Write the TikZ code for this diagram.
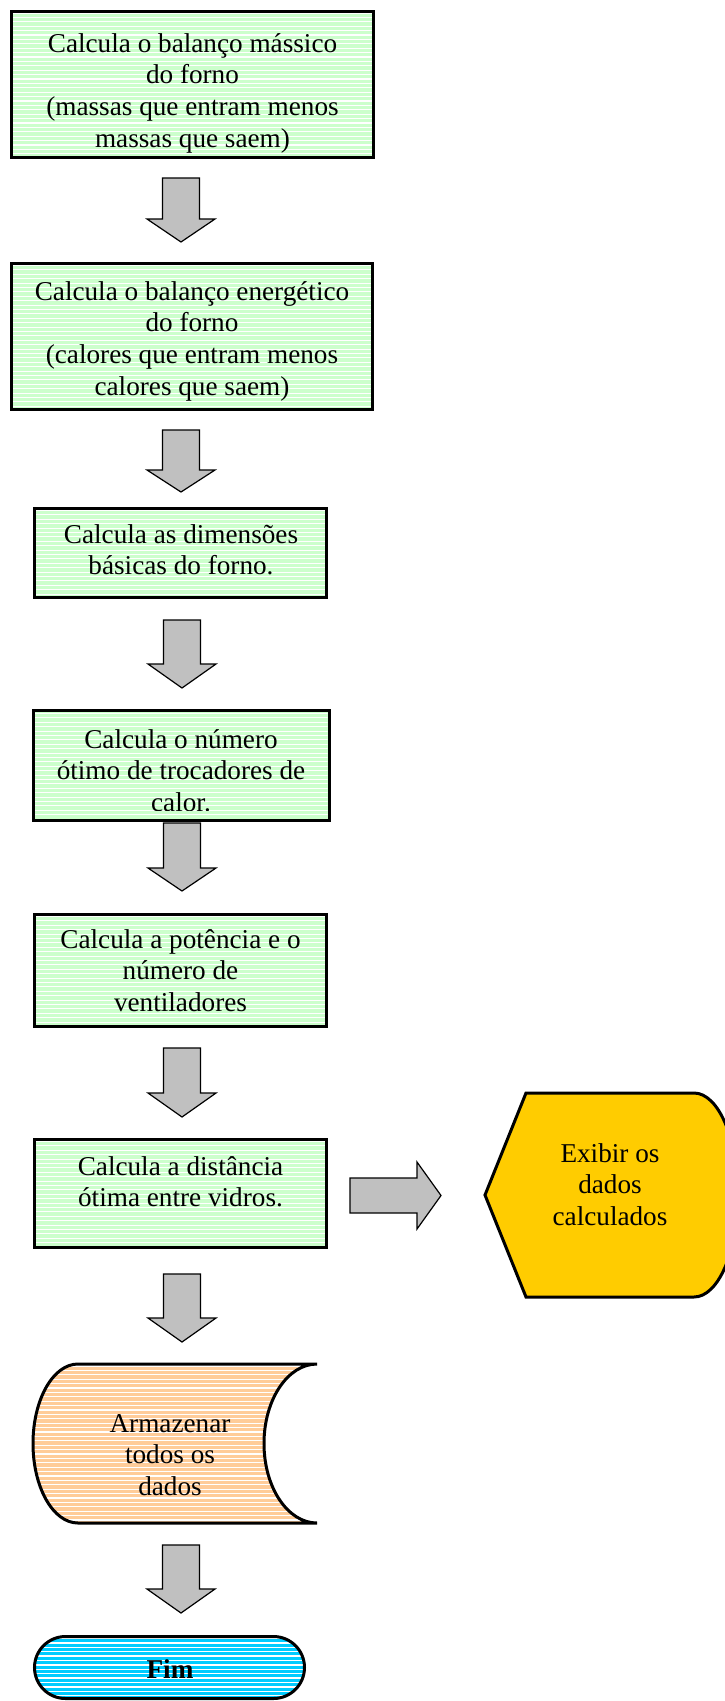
\documentclass[tikz,border=0pt]{standalone}
\usepackage{fontspec}
\setmainfont{Liberation Serif}
\definecolor{boxgreen}{HTML}{CCFFCC}
\definecolor{storeorange}{HTML}{FFCC99}
\definecolor{fimcyan}{HTML}{00CCFF}
\definecolor{dispyellow}{HTML}{FFCC00}
\definecolor{arrgray}{HTML}{C0C0C0}
\newcommand\myfs{\fontsize{27.2}{31.7}\selectfont}
\tikzset{
  stripes/.style={path picture={\foreach \k in {0,...,45}{\draw[white,line width=#1] ([yshift=-2pt-\k*4.4pt]path picture bounding box.north west) -- ([yshift=-2pt-\k*4.4pt]path picture bounding box.north east);}}},
  procbox/.style={draw=black,line width=3pt,fill=boxgreen,stripes=1.1pt,inner sep=0pt},
  txt/.style={anchor=base,inner sep=0pt,font=\myfs},
  blockarr/.style={draw=black,line width=1.2pt,fill=arrgray,line join=miter},
  pics/downarr/.style 2 args={code={\draw[blockarr] (-18.5,0) -- (18.5,0) -- (18.5,#1) -- (34,#1) -- (0,#2) -- (-34,#1) -- (-18.5,#1) -- cycle;}}
}
\newcommand\tl[1]{\begin{tabular}[t]{@{}c@{}}#1\end{tabular}}
\begin{document}
\begin{tikzpicture}[x=1pt,y=-1pt]
\useasboundingbox (0,0) rectangle (725,1701);

% process boxes
\node[procbox,minimum width=362,minimum height=146.5] (b1) at (192.5,84.25) {};
\node[txt] (t1) at (192.5,52) {\tl{Calcula o balanço mássico\\do forno\\(massas que entram menos\\massas que saem)}};

\node[procbox,minimum width=361,minimum height=146] (b2) at (192,336.5) {};
\node[txt] (t2) at (192,300) {\tl{Calcula o balanço energético\\do forno\\(calores que entram menos\\calores que saem)}};

\node[procbox,minimum width=292,minimum height=89] (b3) at (180.5,553) {};
\node[txt] (t3) at (181,543) {\tl{Calcula as dimensões\\básicas do forno.}};

\node[procbox,draw=none,minimum width=293,minimum height=107] (b4) at (181,765) {};
\begin{scope}
  \clip (b4.north west) rectangle ([yshift=9.5pt]b4.south east);
  \node[txt] (t4) at (181,748) {\tl{Calcula o número\\ótimo de trocadores de\\calor.}};
\end{scope}
\draw[line width=3pt] (b4.south west) rectangle (b4.north east);

\node[procbox,minimum width=292,minimum height=112] (b5) at (180.5,970.5) {};
\node[txt] (t5) at (180.5,948) {\tl{Calcula a potência e o\\número de\\ventiladores}};

\node[procbox,minimum width=292,minimum height=108] (b6) at (180.5,1193.5) {};
\node[txt] (t6) at (180.5,1175) {\tl{Calcula a distância\\ótima entre vidros.}};

% block arrows
\pic (a1) at (181,178) {downarr={41}{64}};
\pic (a2) at (181,430) {downarr={40}{62}};
\pic (a3) at (182,620) {downarr={44}{68}};
\pic (a4) at (182,823) {downarr={45}{68}};
\pic (a5) at (182,1048) {downarr={45}{69}};
\pic (a6) at (182,1274) {downarr={44}{68}};
\pic (a7) at (181,1545) {downarr={44}{68}};
\coordinate (ra) at (350,1195.5);
\draw[blockarr] (ra) ++(0,-17.5) -- ++(67,0) -- ++(0,-16) -- (441,1195.5) -- (417,1229) -- (417,1213) -- (350,1213) -- cycle;

% display shape
\draw[line width=3pt,fill=dispyellow,line join=miter]
  (526,1093) -- (694,1093)
  .. controls (718.3,1093) and (738,1138.8) .. (738,1195)
  .. controls (738,1251.2) and (718.3,1297) .. (694,1297)
  -- (526,1297) -- (485,1195) -- cycle;
\node[txt] (disp) at (610,1162) {\tl{Exibir os\\dados\\calculados}};

% stored data shape
\draw[line width=3pt,fill=storeorange,stripes=1.1pt]
  (78,1364) -- (317,1364)
  .. controls (287.7,1364) and (264,1399.6) .. (264,1443.5)
  .. controls (264,1487.4) and (287.7,1523) .. (317,1523)
  -- (78,1523)
  .. controls (53.1,1523) and (33,1487.4) .. (33,1443.5)
  .. controls (33,1399.6) and (53.1,1364) .. (78,1364) -- cycle;
\node[txt] (store) at (170,1432) {\tl{Armazenar\\todos os\\dados}};

% terminal
\node[draw=black,line width=3pt,fill=fimcyan,stripes=1.4pt,rounded corners=31pt,minimum width=270,minimum height=62,inner sep=0pt] (fim) at (169.5,1667.5) {};
\node[txt,font=\myfs\bfseries] (fimt) at (170,1678) {Fim};
\end{tikzpicture}
\end{document}
